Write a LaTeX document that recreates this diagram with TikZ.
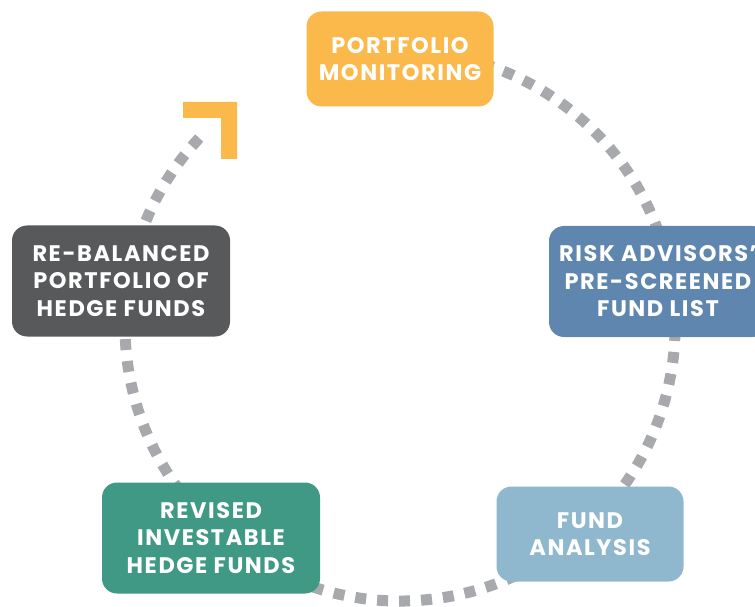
\documentclass[tikz,border=0pt]{standalone}
\usepackage{fontspec}
\setmainfont{Poppins}[LetterSpace=7]
\definecolor{cmon}{HTML}{FBB84B}
\definecolor{crisk}{HTML}{5F86AE}
\definecolor{cbal}{HTML}{58595B}
\definecolor{crev}{HTML}{3F9985}
\definecolor{cana}{HTML}{8FB8CF}
\definecolor{ringgray}{HTML}{A7A9AC}
\begin{document}
\begin{tikzpicture}[x=1pt,y=1pt,
  box/.style={rectangle, rounded corners=15pt, inner sep=0pt, text=white, align=center,
    font=\fontsize{22.5}{27.5}\selectfont\bfseries},
  bigbox/.style={box, minimum width=218pt, minimum height=111pt},
  smallbox/.style={box, minimum width=187pt, minimum height=95pt},
  ring/.style={draw=ringgray, line width=11pt, dash pattern=on 11pt off 11pt}]
\useasboundingbox (0,0) rectangle (755,606);
\coordinate (c) at (400,280);
\draw[ring] (c) ++(100:275) arc[start angle=100, end angle=-225, radius=275];
\fill[cmon] (237,504) -- (183,504) -- (183,488) -- (221,488) -- (221,447) -- (237,447) -- cycle;
\node[smallbox, fill=cmon] (mon) at (400,547) {PORTFOLIO\\MONITORING};
\node[bigbox, fill=crisk] (risk) at (658,324.5) {RISK ADVISORS’\\PRE-SCREENED\\FUND LIST};
\node[bigbox, fill=cbal] (bal) at (121,325) {RE-BALANCED\\PORTFOLIO OF\\HEDGE FUNDS};
\node[bigbox, fill=crev] (rev) at (211,68) {REVISED\\INVESTABLE\\HEDGE FUNDS};
\node[smallbox, fill=cana] (ana) at (590,72) {FUND\\ANALYSIS};
\end{tikzpicture}
\end{document}
